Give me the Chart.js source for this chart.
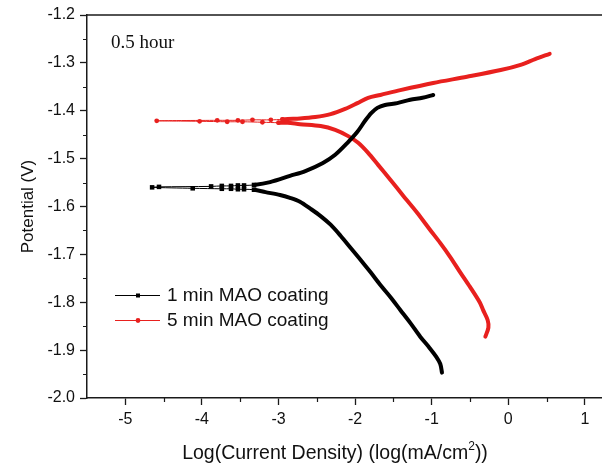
<!DOCTYPE html>
<html>
<head>
<meta charset="utf-8">
<script src="https://cdn.jsdelivr.net/npm/chart.js@4.4.1/dist/chart.umd.min.js"></script>
<style>
  html, body { margin: 0; padding: 0; background: #fff; overflow: hidden; }
  #wrap { width: 602px; height: 466px; }
</style>
</head>
<body>
<div id="wrap"><canvas id="chart" width="602" height="466"></canvas></div>
<script>
// Tafel curves: log current density vs potential
// each path runs cathodic end -> Ecorr -> anodic end
const seriesNames = ['1 min MAO coating', '5 min MAO coating'];

const oneMinLogI = [-0.866, -0.888, -0.94, -1.04, -1.15, -1.28, -1.41, -1.54, -1.67, -1.80, -1.93, -2.06, -2.19, -2.32, -2.45, -2.58, -2.72, -2.85, -2.98, -3.17,
  -3.32, -3.45, -3.53, -3.62, -3.74, -4.12, -4.65,
  -4.56, -3.88, -3.74, -3.62, -3.53, -3.45, -3.32,
  -3.11, -2.85, -2.65, -2.42, -2.26, -2.10, -1.97, -1.87, -1.79, -1.71, -1.61, -1.45, -1.28, -1.12, -0.98];
const oneMinE = [-1.947, -1.929, -1.914, -1.893, -1.872, -1.843, -1.816, -1.789, -1.764, -1.737, -1.711, -1.686, -1.661, -1.638, -1.620, -1.605, -1.590, -1.582, -1.576, -1.570,
  -1.565, -1.564, -1.564, -1.563, -1.563, -1.562, -1.560,
  -1.559, -1.558, -1.557, -1.557, -1.556, -1.556, -1.555,
  -1.549, -1.536, -1.526, -1.509, -1.492, -1.467, -1.444, -1.421, -1.405, -1.394, -1.388, -1.384, -1.377, -1.373, -1.367];

const fiveMinLogI = [-0.30, -0.26, -0.27, -0.33, -0.37, -0.50, -0.63, -0.76, -0.89, -1.02, -1.19, -1.37, -1.54, -1.70, -1.83, -1.96, -2.09, -2.26, -2.45, -2.72, -2.88,
  -3.00, -3.21, -3.47, -3.67, -4.03, -4.59,
  -3.80, -3.53, -3.34, -3.10, -2.95,
  -2.88, -2.72, -2.52, -2.32, -2.13, -1.97, -1.83, -1.67, -1.41, -0.98, -0.54, -0.10, 0.16, 0.35, 0.54];
const fiveMinE = [-1.872, -1.853, -1.837, -1.816, -1.801, -1.768, -1.737, -1.705, -1.676, -1.649, -1.613, -1.578, -1.544, -1.513, -1.488, -1.467, -1.453, -1.440, -1.432, -1.428, -1.425,
  -1.425, -1.424, -1.423, -1.423, -1.422, -1.421,
  -1.420, -1.420, -1.419, -1.419, -1.418,
  -1.417, -1.416, -1.413, -1.407, -1.396, -1.384, -1.373, -1.367, -1.357, -1.342, -1.329, -1.315, -1.304, -1.292, -1.281];

// sparse (marker) region sits left of these log i values
const sparseLimit = [-3.22, -2.92];

// x axis is cut off by the picture's right edge just past 1.2
const xRange = [-5.5, 1.223];
const yRange = [-2.0, -1.2];
const xTickValues = [-5, -4, -3, -2, -1, 0, 1];
const xMinorTicks = [-4.5, -3.5, -2.5, -1.5, -0.5, 0.5];
const yTickValues = [-2.0, -1.9, -1.8, -1.7, -1.6, -1.5, -1.4, -1.3, -1.2];
const yMinorTicks = [-1.95, -1.85, -1.75, -1.65, -1.55, -1.45, -1.35, -1.25];

const colors = ['#000000', '#e8201e'];
const pointStyles = ['rect', 'circle'];
const SANS = 'Liberation Sans, Arial, sans-serif';
const AXIS = '#1a1a1a';

function toPoints(xs, ys) {
    return xs.map((x, i) => ({ x: x, y: ys[i] }));
}

function makeDataset(i, xs, ys) {
    const limit = sparseLimit[i];
    return {
        label: seriesNames[i],
        data: toPoints(xs, ys),
        showLine: true,
        tension: 0.3,
        borderColor: colors[i],
        backgroundColor: colors[i],
        borderWidth: 4,
        borderJoinStyle: 'round',
        borderCapStyle: 'round',
        pointStyle: pointStyles[i],
        pointBorderWidth: 0,
        pointBackgroundColor: colors[i],
        pointRadius: c => (xs[c.dataIndex] < limit ? (i === 0 ? 3.2 : 2.4) : 0),
        segment: {
            borderWidth: c => (xs[c.p0DataIndex] < limit && xs[c.p1DataIndex] < limit ? 1 : 4)
        }
    };
}

// top line, minor ticks, legend and text labels
const decorations = {
    id: 'decorations',
    afterDraw(chart) {
        const { ctx, chartArea: a, scales: { x, y } } = chart;
        ctx.save();
        ctx.strokeStyle = AXIS;
        ctx.lineWidth = 1.5;
        ctx.beginPath();
        ctx.moveTo(a.left, a.top);
        ctx.lineTo(chart.width, a.top);
        ctx.stroke();

        ctx.lineWidth = 1.2;
        ctx.beginPath();
        xMinorTicks.forEach(v => {
            const px = Math.round(x.getPixelForValue(v)) + 0.5;
            ctx.moveTo(px, a.bottom);
            ctx.lineTo(px, a.bottom + 4);
        });
        yMinorTicks.forEach(v => {
            const py = Math.round(y.getPixelForValue(v)) + 0.5;
            ctx.moveTo(a.left, py);
            ctx.lineTo(a.left - 4, py);
        });
        ctx.stroke();

        // legend
        const rows = [295, 320];
        rows.forEach((ly, i) => {
            ctx.strokeStyle = colors[i];
            ctx.lineWidth = 1;
            ctx.beginPath();
            ctx.moveTo(115, ly + 0.5);
            ctx.lineTo(160, ly + 0.5);
            ctx.stroke();
            ctx.fillStyle = colors[i];
            if (i === 0) {
                ctx.fillRect(136, ly - 1.5, 4, 4);
            } else {
                ctx.beginPath();
                ctx.arc(138, ly + 0.5, 2.4, 0, Math.PI * 2);
                ctx.fill();
            }
            ctx.fillStyle = '#111';
            ctx.font = '19px ' + SANS;
            ctx.textAlign = 'left';
            ctx.textBaseline = 'middle';
            ctx.fillText(seriesNames[i], 167, ly + 1);
        });

        // time label
        ctx.fillStyle = '#111';
        ctx.font = '19px Liberation Serif, Times New Roman, serif';
        ctx.textBaseline = 'alphabetic';
        ctx.fillText('0.5 hour', 111, 48);

        // x axis title with superscript
        const main = 'Log(Current Density) (log(mA/cm';
        const sup = '2';
        const tail = '))';
        ctx.font = '19.5px ' + SANS;
        const w1 = ctx.measureText(main).width;
        const w3 = ctx.measureText(tail).width;
        ctx.font = '12px ' + SANS;
        const w2 = ctx.measureText(sup).width;
        let tx = 335 - (w1 + w2 + w3) / 2;
        const base = 459;
        ctx.font = '19.5px ' + SANS;
        ctx.fillText(main, tx, base);
        tx += w1;
        ctx.font = '12px ' + SANS;
        ctx.fillText(sup, tx, base - 9);
        tx += w2;
        ctx.font = '19.5px ' + SANS;
        ctx.fillText(tail, tx, base);
        ctx.restore();
    }
};

new Chart(document.getElementById('chart'), {
    type: 'scatter',
    data: {
        datasets: [
            makeDataset(0, oneMinLogI, oneMinE),
            makeDataset(1, fiveMinLogI, fiveMinE)
        ]
    },
    options: {
        responsive: false,
        animation: false,
        devicePixelRatio: 1,
        events: [],
        layout: { padding: { left: 0, right: 0, top: 15, bottom: 0 } },
        plugins: {
            legend: { display: false },
            tooltip: { enabled: false }
        },
        scales: {
            x: {
                type: 'linear',
                min: xRange[0],
                max: xRange[1],
                afterBuildTicks: s => { s.ticks = xTickValues.map(v => ({ value: v })); },
                afterFit: s => { s.height = 68; },
                ticks: { color: '#111', font: { size: 16, family: SANS }, padding: 5, maxRotation: 0, callback: v => String(v) },
                grid: { drawOnChartArea: false, drawTicks: true, tickLength: 7, tickColor: AXIS, tickWidth: 1.3 },
                border: { display: true, color: AXIS, width: 1.5 }
            },
            y: {
                type: 'linear',
                min: yRange[0],
                max: yRange[1],
                afterBuildTicks: s => { s.ticks = yTickValues.map(v => ({ value: v })); },
                afterFit: s => { s.width = 87; },
                ticks: { color: '#111', font: { size: 16, family: SANS }, padding: 5, callback: v => v.toFixed(1) },
                grid: { drawOnChartArea: false, drawTicks: true, tickLength: 7, tickColor: AXIS, tickWidth: 1.3 },
                border: { display: true, color: AXIS, width: 1.5 },
                title: { display: true, text: 'Potential (V)', color: '#111', font: { size: 17, family: SANS }, padding: { top: 18, bottom: 0 } }
            }
        }
    },
    plugins: [decorations]
});
</script>
</body>
</html>
